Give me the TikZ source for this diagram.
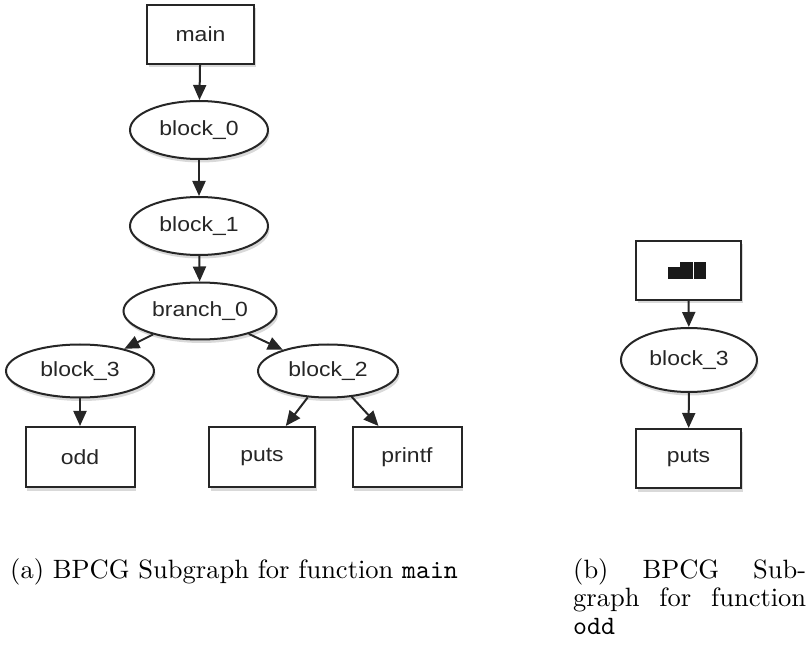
\documentclass[tikz,border=0pt]{standalone}
\usepackage{fontspec}
\setmainfont{lmroman10-regular.otf}
\setmonofont{lmmono10-regular.otf}
\newfontfamily\gvfont{Liberation Sans}[FakeStretch=1.12]
\usetikzlibrary{arrows.meta,shapes.geometric,shadows}
\begin{document}
\begin{tikzpicture}[x=1pt,y=-1pt,
  gvnode/.style={draw=black!85, line width=2pt, fill=white, inner sep=0pt,
    font=\gvfont\fontsize{20.5}{24}\selectfont, text=black!85,
    drop shadow={shadow xshift=1.5pt, shadow yshift=-3.5pt, opacity=0.3}},
  boxnode/.style={gvnode, rectangle, minimum width=107pt, minimum height=59pt},
  ovalnode/.style={gvnode, ellipse, minimum width=138pt, minimum height=58pt},
  edge/.style={line width=2pt, draw=black!85, -{Triangle[length=15pt,width=13pt]}},
  captext/.style={anchor=base west, inner sep=0pt, font=\fontsize{26.5}{27.5}\selectfont},
]
\useasboundingbox (0,0) rectangle (807,647);

% (a) subgraph for main
\node[boxnode] (main) at (200.5,34.5) {main};
\node[ovalnode] (b0) at (199,130) {block\_0};
\node[ovalnode] (b1) at (199,226) {block\_1};
\node[ovalnode, minimum width=153pt, minimum height=57pt] (br0) at (200,311) {branch\_0};
\node[ovalnode, minimum width=148pt, minimum height=53pt] (b3) at (80,371) {block\_3};
\node[ovalnode, minimum width=140pt, minimum height=53pt] (b2) at (328,371) {block\_2};
\node[boxnode, minimum width=109pt, minimum height=60pt] (odd) at (80,457) {odd};
\node[boxnode, minimum width=106pt, minimum height=60pt] (puts) at (262,457) {puts};
\node[boxnode, minimum width=109pt, minimum height=60pt] (printf) at (407,457) {printf};

\draw[edge] (main) -- (b0);
\draw[edge] (b0) -- (b1);
\draw[edge] (b1) -- (br0);
\draw[edge] (br0) -- (b3);
\draw[edge] (br0) -- (b2);
\draw[edge] (b3) -- (odd);
\draw[edge] (b2) -- (puts);
\draw[edge] (b2) -- (printf);

% (b) subgraph for odd
\node[boxnode, minimum width=105pt] (oddtop) at (688.5,270.5) {};
\fill[black!90] (668,267) rectangle (680.5,279);
\fill[black!90] (680,262) rectangle (692.5,279);
\fill[black!90] (693.5,262) rectangle (706,279);
\node[ovalnode, minimum width=136pt, minimum height=64pt] (ob3) at (689,360) {block\_3};
\node[boxnode, minimum width=105pt] (oputs) at (688.5,458.5) {puts};

\draw[edge] (oddtop) -- (ob3);
\draw[edge] (ob3) -- (oputs);

% captions
\node[captext] (capa) at (10,578) {(a) BPCG Subgraph for function \texttt{main}};
\node[captext] (capb1) at (573,578) {\makebox[233pt][s]{(b) BPCG Sub-}};
\node[captext] (capb2) at (573,606) {\makebox[233pt][s]{graph for function}};
\node[captext] (capb3) at (573,634) {\texttt{odd}};
\end{tikzpicture}
\end{document}
